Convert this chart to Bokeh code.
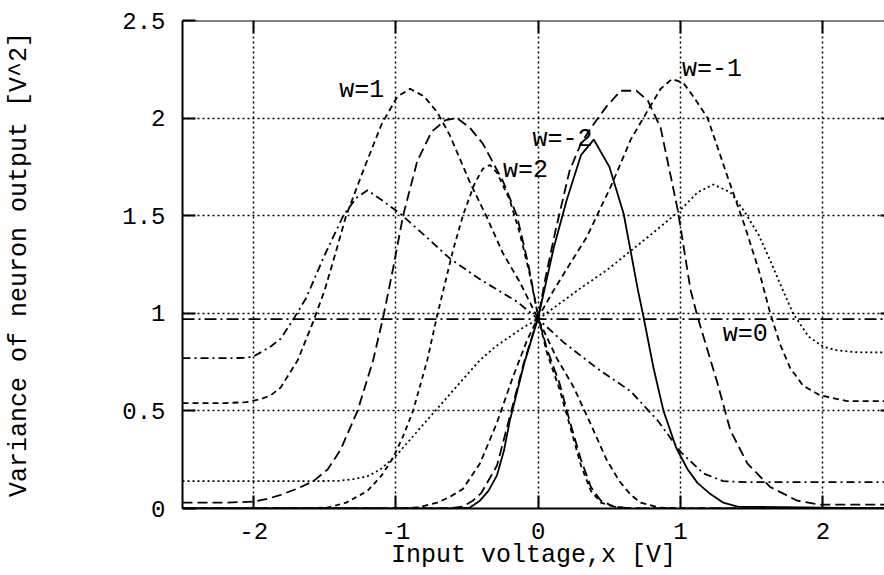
from bokeh.plotting import figure
from bokeh.models import FixedTicker, Range1d, ColumnDataSource, Grid, Span
from bokeh.embed import file_html
from bokeh.resources import INLINE
from bokeh.core.properties import value

FONT = "Liberation Mono"

# axis ticks
x_ticks = [-2, -1, 0, 1, 2]
x_tick_labels = ["-2", "-1", "0", "1", "2"]
y_ticks = [0, 0.5, 1, 1.5, 2, 2.5]
y_tick_labels = ["0", "0.5", "1", "1.5", "2", "2.5"]

# output variance vs input voltage, one series per weight w
w0_x = [-2.5, 2.5]
w0_y = [0.97, 0.97]

wp05_x = [-2.5, -2.2, -2.05, -2.0, -1.95, -1.88, -1.81, -1.72, -1.63, -1.5, -1.37, -1.28, -1.2, -1.1,
          -0.97, -0.8, -0.62, -0.4, -0.15, 0.0, 0.18, 0.41, 0.65, 0.84, 1.0, 1.16, 1.3, 1.45, 1.7, 2.5]
wp05_y = [0.77, 0.77, 0.772, 0.78, 0.8, 0.83, 0.87, 0.97, 1.08, 1.3, 1.5, 1.59, 1.63, 1.58,
          1.51, 1.4, 1.28, 1.17, 1.06, 0.97, 0.85, 0.72, 0.6, 0.45, 0.29, 0.18, 0.14, 0.135, 0.135, 0.135]

wm05_x = [-2.5, -1.6, -1.4, -1.3, -1.2, -1.11, -1.0, -0.88, -0.76, -0.64, -0.52, -0.41, -0.3, -0.2, -0.1,
          0.0, 0.15, 0.3, 0.48, 0.65, 0.82, 1.0, 1.12, 1.23, 1.35, 1.45, 1.55, 1.63, 1.7, 1.79, 1.9,
          2.0, 2.1, 2.25, 2.5]
wm05_y = [0.14, 0.14, 0.142, 0.15, 0.165, 0.2, 0.27, 0.37, 0.47, 0.57, 0.67, 0.76, 0.83, 0.88, 0.93,
          0.97, 1.05, 1.13, 1.22, 1.32, 1.42, 1.53, 1.62, 1.66, 1.62, 1.52, 1.4, 1.27, 1.15, 1.0, 0.88,
          0.83, 0.81, 0.8, 0.8]

wp1_x = [-2.5, -2.2, -2.05, -1.95, -1.88, -1.81, -1.69, -1.58, -1.5, -1.42, -1.35, -1.22, -1.1, -0.99,
         -0.9, -0.8, -0.71, -0.62, -0.48, -0.36, -0.25, -0.13, 0.0, 0.13, 0.25, 0.37, 0.48, 0.57, 0.65,
         0.72, 0.85, 1.0, 2.5]
wp1_y = [0.54, 0.54, 0.545, 0.56, 0.58, 0.62, 0.76, 0.96, 1.12, 1.32, 1.5, 1.75, 1.97, 2.11,
         2.15, 2.11, 2.03, 1.91, 1.67, 1.49, 1.31, 1.16, 0.97, 0.77, 0.62, 0.43, 0.25, 0.14, 0.07,
         0.03, 0.005, 0.0, 0.0]

wm1_x = [-2.5, -1.0, -0.85, -0.71, -0.62, -0.53, -0.41, -0.29, -0.18, -0.08, 0.0, 0.11, 0.22, 0.34,
         0.51, 0.65, 0.77, 0.86, 0.94, 1.02, 1.1, 1.19, 1.33, 1.45, 1.55, 1.63, 1.7, 1.77, 1.86, 1.98,
         2.17, 2.5]
wm1_y = [0.0, 0.0, 0.005, 0.03, 0.06, 0.1, 0.23, 0.44, 0.67, 0.86, 0.98, 1.12, 1.25, 1.39,
         1.65, 1.89, 2.04, 2.15, 2.2, 2.18, 2.1, 2.0, 1.7, 1.45, 1.22, 1.0, 0.84, 0.72, 0.63, 0.58,
         0.55, 0.55]

wp15_x = [-2.5, -2.2, -2.0, -1.9, -1.81, -1.7, -1.58, -1.48, -1.39, -1.27, -1.16, -1.09, -1.02, -0.95,
          -0.85, -0.75, -0.65, -0.57, -0.48, -0.39, -0.25, -0.15, -0.07, 0.0, 0.06, 0.15, 0.22, 0.3,
          0.37, 0.44, 0.53, 0.65, 2.5]
wp15_y = [0.03, 0.03, 0.035, 0.05, 0.07, 0.1, 0.14, 0.2, 0.3, 0.5, 0.76, 0.98, 1.23, 1.5,
          1.78, 1.93, 1.99, 2.0, 1.95, 1.87, 1.68, 1.5, 1.25, 0.98, 0.82, 0.64, 0.45, 0.25,
          0.11, 0.04, 0.01, 0.0, 0.0]

wm15_x = [-2.5, -0.7, -0.6, -0.53, -0.46, -0.4, -0.29, -0.2, -0.1, 0.0, 0.05, 0.12, 0.22, 0.3, 0.37,
          0.48, 0.58, 0.69, 0.77, 0.86, 0.98, 1.07, 1.12, 1.26, 1.35, 1.47, 1.63, 1.82, 1.98, 2.2, 2.5]
wm15_y = [0.0, 0.0, 0.003, 0.01, 0.04, 0.08, 0.22, 0.47, 0.75, 0.98, 1.18, 1.42, 1.73, 1.87, 1.95,
          2.06, 2.14, 2.14, 2.09, 1.95, 1.53, 1.12, 0.98, 0.64, 0.4, 0.23, 0.11, 0.04, 0.02, 0.02, 0.02]

wp2_x = [-2.5, -1.65, -1.48, -1.35, -1.2, -1.1, -1.02, -0.95, -0.88, -0.78, -0.71, -0.6, -0.53, -0.45,
         -0.39, -0.34, -0.29, -0.2, -0.13, -0.06, 0.0, 0.06, 0.15, 0.22, 0.3, 0.37, 0.44, 0.53, 0.65, 2.5]
wp2_y = [0.0, 0.0, 0.005, 0.03, 0.09, 0.17, 0.26, 0.37, 0.5, 0.76, 0.99, 1.32, 1.5, 1.66,
         1.74, 1.76, 1.72, 1.58, 1.41, 1.2, 0.98, 0.8, 0.61, 0.43, 0.22, 0.09, 0.03, 0.01, 0.0, 0.0]

wm2_x = [-2.5, -0.6, -0.48, -0.41, -0.35, -0.29, -0.24, -0.2, -0.1, -0.05, 0.0, 0.11, 0.2, 0.3, 0.39,
         0.5, 0.6, 0.7, 0.74, 0.81, 0.88, 0.97, 1.05, 1.12, 1.2, 1.3, 1.4, 2.5]
wm2_y = [0.0, 0.0, 0.005, 0.04, 0.09, 0.17, 0.3, 0.45, 0.74, 0.86, 0.98, 1.34, 1.58, 1.81, 1.89,
         1.75, 1.51, 1.12, 0.98, 0.72, 0.5, 0.31, 0.2, 0.13, 0.08, 0.03, 0.01, 0.0]

# curve annotations
label_text = ["w=1", "w=2", "w=-2", "w=-1", "w=0"]
label_x = [-1.24, -0.09, 0.17, 1.22, 1.455]
label_y = [2.14, 1.73, 1.89, 2.25, 0.89]

series = [
    (w0_x, w0_y, "12 4 2 4"),
    (wp05_x, wp05_y, "8 4 2 4"),
    (wm05_x, wm05_y, "2 3"),
    (wp1_x, wp1_y, "6 4"),
    (wm1_x, wm1_y, "6 4"),
    (wp15_x, wp15_y, "10 5"),
    (wm15_x, wm15_y, "10 5"),
    (wp2_x, wp2_y, "5 4"),
    (wm2_x, wm2_y, "solid"),
]

X_START, X_END = -2.5, 2.433
Y_START, Y_END = 0, 2.5
FRAME_W, FRAME_H = 884 - 182, 575 - 20 - 67

p = figure(width=884, height=575,
           x_range=Range1d(X_START, X_END), y_range=Range1d(Y_START, Y_END),
           output_backend="svg", toolbar_location=None,
           min_border_left=182, min_border_right=0,
           min_border_top=20, min_border_bottom=67,
           outline_line_color=None,
           background_fill_color="white", border_fill_color="white")

# grid: black dotted
for g in (p.xgrid[0], p.ygrid[0]):
    g.grid_line_color = "black"
    g.grid_line_dash = "2 3"
    g.grid_line_width = 1.5

xa = p.xaxis[0]
xa.ticker = FixedTicker(ticks=x_ticks)
xa.major_label_overrides = dict(zip(x_ticks, x_tick_labels))
xa.axis_label = "Input voltage,x [V]"
ya = p.yaxis[0]
ya.ticker = FixedTicker(ticks=y_ticks)
ya.major_label_overrides = dict(zip(y_ticks, y_tick_labels))
ya.axis_label = "Variance of neuron output [V^2]"

for ax in (xa, ya):
    ax.axis_line_width = 2
    ax.axis_line_color = "black"
    ax.major_tick_in = 13
    ax.major_tick_out = 0
    ax.major_tick_line_width = 2
    ax.major_tick_line_color = "black"
    ax.minor_tick_in = 0
    ax.minor_tick_out = 0
    ax.major_label_text_font = FONT
    ax.major_label_text_font_size = "24px"
    ax.major_label_text_color = "black"
    ax.axis_label_text_font = FONT
    ax.axis_label_text_font_size = "25px"
    ax.axis_label_text_font_style = "normal"
    ax.axis_label_text_color = "black"

xa.major_label_standoff = 14
xa.axis_label_standoff = -1
ya.major_label_standoff = 17
ya.axis_label_standoff = 85

# top border with inward ticks, and the short inward ticks of the right border
p.add_layout(Span(location=Y_END, dimension="width", line_color="black", line_width=2))
tick_h = 13 * (Y_END - Y_START) / FRAME_H
tick_w = 4 * (X_END - X_START) / FRAME_W
if "cross_bounds" in Grid.properties():
    p.add_layout(Grid(dimension=0, ticker=FixedTicker(ticks=x_ticks),
                      cross_bounds=(Y_END - tick_h, Y_END),
                      grid_line_color="black", grid_line_width=2))
    p.add_layout(Grid(dimension=1, ticker=FixedTicker(ticks=[0.5, 1, 1.5, 2]),
                      cross_bounds=(X_END - tick_w, X_END),
                      grid_line_color="black", grid_line_width=2))
else:
    p.segment(x0=x_ticks, y0=[Y_END] * len(x_ticks), x1=x_ticks,
              y1=[Y_END - tick_h] * len(x_ticks), line_color="black", line_width=2)
    p.segment(x0=[X_END] * 4, y0=[0.5, 1, 1.5, 2], x1=[X_END - tick_w] * 4,
              y1=[0.5, 1, 1.5, 2], line_color="black", line_width=2)

for xs, ys, dash in series:
    p.line(xs, ys, line_color="black", line_width=1.8, line_dash=dash)

src = ColumnDataSource(dict(x=label_x, y=label_y, t=label_text))
p.text(x="x", y="y", text="t", source=src, text_font=value(FONT),
       text_font_size=value("25px"), text_align="center", text_baseline="middle",
       text_color="black")

open("out.html", "w").write(file_html(p, INLINE))
